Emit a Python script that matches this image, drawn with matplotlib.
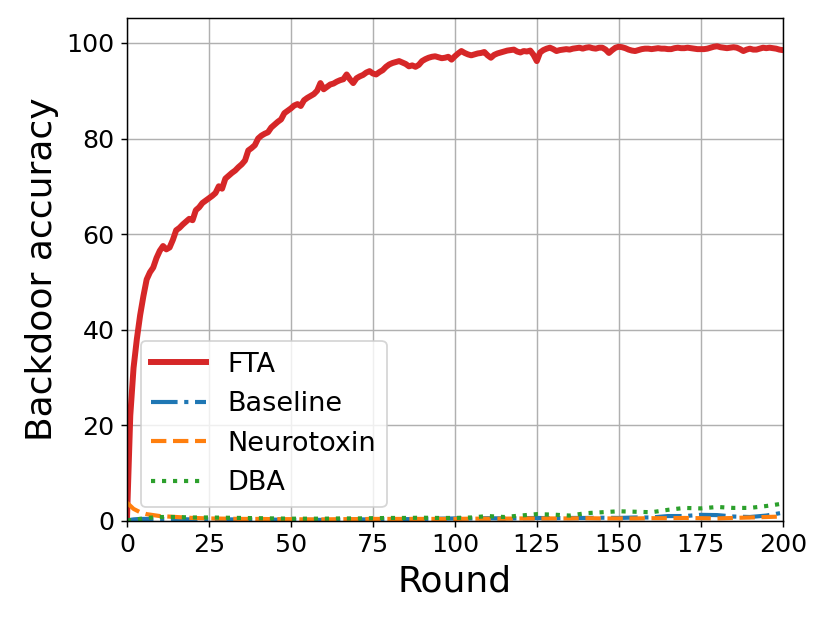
import numpy as np
import matplotlib
matplotlib.use("Agg")
import matplotlib.pyplot as plt

# FTA backdoor accuracy, one value per round (0..200)
fta = [0.5, 22, 32, 38, 43, 47, 50.5, 52, 53, 55,
       56.5, 57.5, 56.8, 57.2, 58.8, 60.8, 61.3, 62, 62.6, 63.2,
       62.9, 65, 65.6, 66.5, 67, 67.5, 68, 68.6, 70, 69.5,
       71.6, 72.2, 72.8, 73.3, 74, 74.6, 75.4, 77.5, 78, 78.6,
       80, 80.6, 81, 81.3, 82.3, 82.9, 83.5, 84, 85.3, 85.8,
       86.3, 86.9, 87.2, 86.8, 88, 88.5, 88.9, 89.3, 90, 91.6,
       90.3, 90.8, 91.3, 91.5, 91.9, 92.2, 92.4, 93.4, 92.4, 91.6,
       92.6, 93, 93.3, 93.8, 94.1, 93.6, 93.4, 93.9, 94.3, 95,
       95.5, 95.8, 96, 96.2, 95.9, 95.6, 95.1, 95.3, 95, 95.4,
       96.2, 96.6, 96.9, 97.1, 97.2, 97, 96.8, 96.9, 97.1, 96.5,
       97.2, 97.8, 98.3, 97.9, 97.6, 97.4, 97.6, 97.8, 97.9, 98.1,
       97.4, 96.9, 97.5, 97.8, 98, 98.2, 98.4, 98.5, 98.6, 98.2,
       98, 98.3, 98.2, 98.4, 97.5, 96.2, 98, 98.5, 98.8, 99,
       98.7, 98.3, 98.5, 98.6, 98.7, 98.6, 98.8, 98.9, 99, 98.8,
       99, 99.1, 98.9, 98.8, 99, 99, 98.6, 97.9, 98.5, 99,
       99.2, 99.1, 98.9, 98.6, 98.4, 98.3, 98.5, 98.7, 98.8, 98.8,
       98.7, 98.8, 98.9, 98.8, 98.8, 98.7, 98.7, 98.9, 99, 98.9,
       98.9, 99, 98.9, 98.8, 98.7, 98.7, 98.7, 98.8, 99, 99.2,
       99.3, 99.1, 99, 98.9, 99, 99.1, 99, 98.7, 98.3, 98.6,
       98.8, 98.6, 98.6, 98.8, 99, 98.9, 99, 98.9, 98.8, 98.6,
       98.5]
rounds = np.arange(len(fta))

# the other three stay near zero, read at coarser steps
rounds_small = [0, 2, 4, 6, 8, 10] + list(range(15, 201, 5))
baseline = [0.1, 0.3, 0.4, 0.4, 0.4, 0.4, 0.35, 0.3, 0.3, 0.3,
            0.3, 0.25, 0.25, 0.2, 0.2, 0.2, 0.25, 0.3, 0.3, 0.35,
            0.35, 0.4, 0.45, 0.5, 0.5, 0.55, 0.5, 0.55, 0.6, 0.55,
            0.6, 0.6, 0.65, 0.6, 0.7, 0.7, 1.0, 1.0, 1.25, 1.2,
            0.9, 0.8, 1.1, 1.7]
neurotoxin = [3.8, 2.5, 1.8, 1.4, 1.2, 1.0, 0.8, 0.6, 0.5, 0.45,
              0.4, 0.4, 0.35, 0.35, 0.3, 0.3, 0.35, 0.35, 0.4, 0.4,
              0.4, 0.4, 0.4, 0.4, 0.45, 0.45, 0.45, 0.5, 0.5, 0.5,
              0.5, 0.55, 0.5, 0.5, 0.5, 0.55, 0.55, 0.6, 0.55, 0.5,
              0.6, 0.7, 0.8, 0.9]
dba = [0.1, 0.2, 0.4, 0.6, 0.7, 0.8, 0.8, 0.7, 0.7, 0.65,
       0.6, 0.55, 0.5, 0.45, 0.45, 0.45, 0.5, 0.5, 0.55, 0.6,
       0.6, 0.65, 0.6, 0.6, 0.7, 1.0, 0.8, 1.1, 1.4, 1.3,
       1.1, 1.6, 1.8, 2.0, 1.9, 1.8, 2.3, 2.7, 2.6, 2.9,
       2.7, 2.7, 3.1, 3.6]

fig = plt.figure(figsize=(8.3 / 1.3, 6.23 / 1.3), dpi=130)
ax = fig.add_axes([0.153, 0.164, 0.79, 0.807])

ax.plot(rounds, fta, color='tab:red', lw=3.3, label='FTA')
ax.plot(rounds_small, baseline, color='tab:blue', ls='-.', lw=2.3, label='Baseline')
ax.plot(rounds_small, neurotoxin, color='tab:orange', ls='--', lw=2.3, label='Neurotoxin')
ax.plot(rounds_small, dba, color='tab:green', ls=':', lw=2.3, label='DBA')

ax.set_xlim(0, 200)
ax.set_ylim(0, 105.2)
ax.set_xticks(range(0, 201, 25))
ax.set_yticks(range(0, 101, 20))
ax.tick_params(labelsize=14)
ax.grid(True)
ax.set_xlabel('Round', fontsize=20)
ax.set_ylabel('Backdoor accuracy', fontsize=20)
ax.legend(loc='lower left', fontsize=15)

fig.savefig('out.png', dpi=130)
